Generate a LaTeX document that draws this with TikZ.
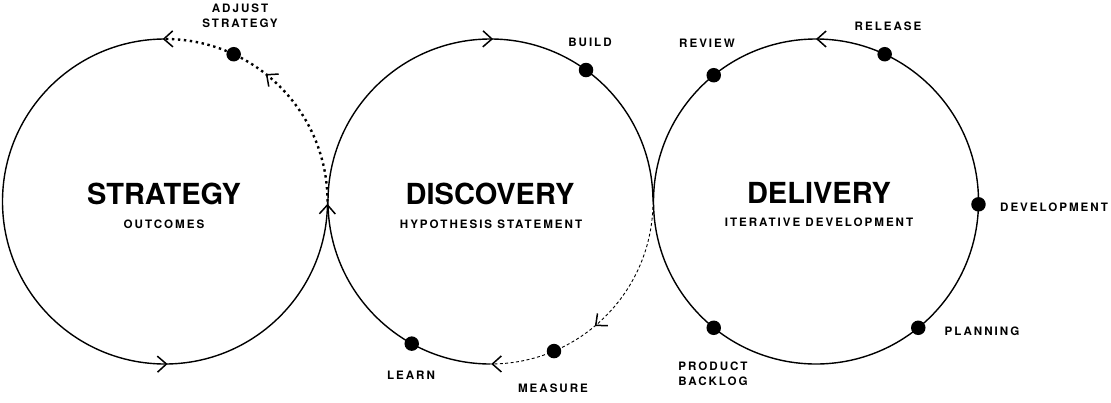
\documentclass[tikz,border=0pt]{standalone}
\usepackage{fontspec}
\setmainfont{TeX Gyre Heros}
\newfontfamily\tagfont[LetterSpace=17]{TeX Gyre Heros}
\usetikzlibrary{arrows.meta}
\usetikzlibrary{decorations.markings}

\tikzset{
  ring/.style={circle, minimum size=325pt, inner sep=0pt, outer sep=0pt},
  milestone/.style={circle, fill=black, minimum size=14.5pt, inner sep=0pt},
  tag/.style={font=\tagfont\bfseries\fontsize{11.6}{15}\selectfont, align=center},
  heading/.style={font=\bfseries\fontsize{29}{31}\selectfont},
  loopline/.style={line width=1.4pt},
  dotline/.style={line width=2.4pt, dash pattern=on 2.4pt off 3.6pt},
  dashline/.style={line width=0.9pt, dash pattern=on 3pt off 2.4pt},
  chevrons/.style={postaction={decorate}, decoration={markings, #1}},
}
\newcommand{\chev}{\arrow{Straight Barb[length=9pt,width=16pt,line width=1.5pt]}}

\begin{document}
\begin{tikzpicture}[x=1pt, y=1pt]
        \useasboundingbox (0,0) rectangle (1111,-402);

        % Circles
        \draw (165,-201.5) node(strat) [ring] {};
        \draw (490.5,-201.5) node(disc) [ring] {};
        \draw (816,-201.5) node(deliv) [ring] {};

        % Strategy loop
        \draw[loopline, chevrons={mark=at position 0.003 with {\chev}, mark=at position 0.670 with {\chev}, mark=at position 0.997 with {\chev}}]
          (strat.90) arc[start angle=90, end angle=360, radius=162.5pt];
        \draw[dotline, chevrons={mark=at position 0.574 with {\chev}}]
          (strat.0) arc[start angle=0, end angle=90, radius=162.5pt];

        % Discovery loop
        \draw[loopline, chevrons={mark=at position 0.670 with {\chev}}]
          (disc.270) arc[start angle=270, end angle=0, radius=162.5pt];
        \draw[dashline, chevrons={mark=at position 0.556 with {\chev}, mark=at position 0.997 with {\chev}}]
          (disc.0) arc[start angle=0, end angle=-90, radius=162.5pt];

        % Delivery loop
        \draw[loopline, chevrons={mark=at position 0.25 with {\chev}}]
          (deliv.0) arc[start angle=0, end angle=360, radius=162.5pt];

        % Dots
        \node[milestone] (adjust) at (strat.65.7) {};
        \node[milestone] (build) at (disc.54.6) {};
        \node[milestone] (measure) at (disc.-67.3) {};
        \node[milestone] (learn) at (disc.-119.4) {};
        \node[milestone] (review) at (deliv.129.5) {};
        \node[milestone] (release) at (deliv.65.4) {};
        \node[milestone] (develop) at (deliv.-1.8) {};
        \node[milestone] (planning) at (deliv.-51.4) {};
        \node[milestone] (backlog) at (deliv.-129.4) {};

        % Headings
        \draw (164,-193.5) node(strattitle) [heading] {STRATEGY};
        \draw (164,-224) node(stratsub) [tag] {OUTCOMES};
        \draw (490,-193.5) node(disctitle) [heading] {DISCOVERY};
        \draw (491,-224) node(discsub) [tag] {HYPOTHESIS STATEMENT};
        \draw (819,-192.5) node(delivtitle) [heading] {DELIVERY};
        \draw (819,-222.5) node(delivsub) [tag] {ITERATIVE DEVELOPMENT};

        % Labels
        \draw (240,-16) node(adjustlbl) [tag] {ADJUST\\STRATEGY};
        \draw (590,-42) node(buildlbl) [tag] {BUILD};
        \draw (553,-388) node(measurelbl) [tag] {MEASURE};
        \draw (411,-375) node(learnlbl) [tag] {LEARN};
        \draw (707,-43) node(reviewlbl) [tag] {REVIEW};
        \draw (888,-26) node(releaselbl) [tag] {RELEASE};
        \draw (1054,-207) node(developlbl) [tag] {DEVELOPMENT};
        \draw (982,-331) node(planninglbl) [tag] {PLANNING};
        \draw (713,-374) node(backloglbl) [tag] {PRODUCT\\BACKLOG};

      \end{tikzpicture}
\end{document}
